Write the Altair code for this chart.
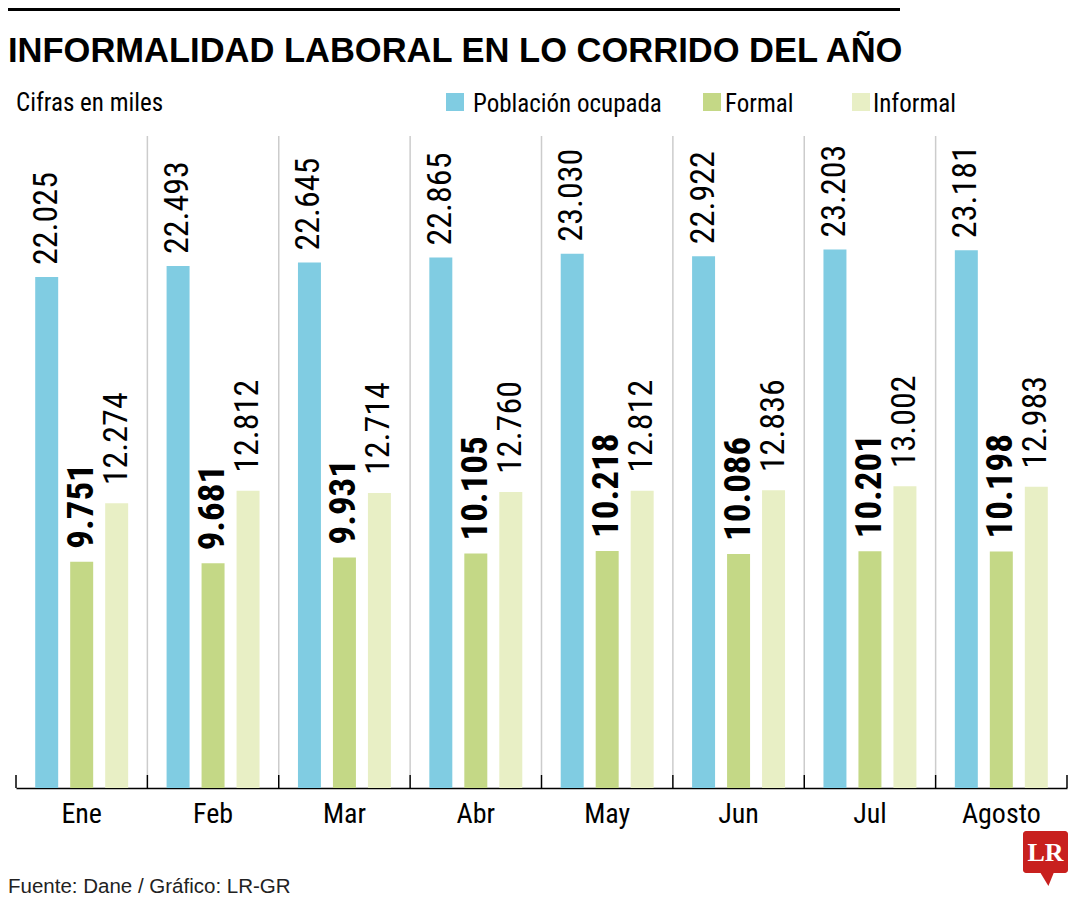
import altair as alt
import pandas as pd

meses = ["Ene", "Feb", "Mar", "Abr", "May", "Jun", "Jul", "Agosto"]
series = ["Población ocupada", "Formal", "Informal"]
poblacion = [22025, 22493, 22645, 22865, 23030, 22922, 23203, 23181]
formal = [9751, 9681, 9931, 10105, 10218, 10086, 10201, 10198]
informal = [12274, 12812, 12714, 12760, 12812, 12836, 13002, 12983]
colores = ["#80CCE2", "#C4D886", "#E8EFC5"]

NARROW = "Liberation Sans Narrow, Roboto Condensed, DejaVu Sans Condensed, sans-serif"
SANS = "Liberation Sans, Arial, sans-serif"

rows = []
for serie, vals in zip(series, [poblacion, formal, informal]):
    for m, v in zip(meses, vals):
        rows.append({"mes": m, "serie": serie, "valor": v,
                     "etiqueta": f"{v:,}".replace(",", ".")})
df = pd.DataFrame(rows)
dm = pd.DataFrame({"mes": meses})
one = pd.DataFrame({"k": [0]})

W, H = 1051, 652
YMAX = 28100

xenc = alt.X("mes:N", sort=meses,
             scale=alt.Scale(paddingInner=0, paddingOuter=0),
             axis=alt.Axis(title=None, ticks=False, domainColor="black", domainWidth=1.5,
                           labelFont=NARROW, labelFontSize=28, labelColor="black",
                           labelAlign="center", labelBaseline="top",
                           labelPadding=12, grid=False, labelAngle=0))
xoff = alt.XOffset("serie:N", sort=series,
                   scale=alt.Scale(domain=series, paddingInner=0.343, paddingOuter=0.549))
yenc = alt.Y("valor:Q", scale=alt.Scale(domain=[0, YMAX]), axis=None)
cenc = alt.Color("serie:N", scale=alt.Scale(domain=series, range=colores), legend=None)

bars = alt.Chart(df).mark_bar().encode(x=xenc, xOffset=xoff, y=yenc, color=cenc)

def labels(serie, size, weight, dx):
    return alt.Chart(df).transform_filter(alt.datum.serie == serie).mark_text(
        angle=270, align="left", baseline="middle", dx=dx, dy=0,
        font=NARROW, fontSize=size, fontWeight=weight, color="black"
    ).encode(x=alt.X("mes:N", sort=meses), xOffset=xoff, y=yenc, text="etiqueta:N")

lab_p = labels("Población ocupada", 34, "normal", 12)
lab_f = labels("Formal", 37, "bold", 13)
lab_i = labels("Informal", 34, "normal", 18)

dividers = alt.Chart(dm).transform_filter(alt.datum.mes != "Ene").mark_rule(
    color="#cccccc", strokeWidth=1.5
).encode(x=alt.X("mes:N", sort=meses, bandPosition=0), y=alt.value(0), y2=alt.value(H - 13))

ticks = alt.Chart(dm).mark_rule(color="black", strokeWidth=1.5).encode(
    x=alt.X("mes:N", sort=meses, bandPosition=0), y=alt.value(H - 13), y2=alt.value(H))
tick_end = alt.Chart(dm).transform_filter(alt.datum.mes == "Agosto").mark_rule(
    color="black", strokeWidth=1.5
).encode(x=alt.X("mes:N", sort=meses, bandPosition=1), y=alt.value(H - 13), y2=alt.value(H))

# decorations (single-row data so each is drawn once)
topbar = alt.Chart(one).mark_rect(color="black").encode(
    x=alt.value(-8), x2=alt.value(884), y=alt.value(-132), y2=alt.value(-125))
title = alt.Chart(one).mark_text(
    text="INFORMALIDAD LABORAL EN LO CORRIDO DEL AÑO", align="left", baseline="alphabetic",
    font=SANS, fontSize=34.5, fontWeight="bold", color="black"
).encode(x=alt.value(-8), y=alt.value(-74))
subtitle = alt.Chart(one).mark_text(
    text="Cifras en miles", align="left", baseline="alphabetic",
    font=NARROW, fontSize=25, color="black"
).encode(x=alt.value(0), y=alt.value(-25))

legend_pos = [(439, 457), (696, 709), (845, 857)]
legend_layers = []
for (sx, tx), s, c in zip(legend_pos, series, colores):
    legend_layers.append(alt.Chart(one).mark_square(size=324, color=c, opacity=1, filled=True).encode(
        x=alt.value(sx), y=alt.value(-34)))
    legend_layers.append(alt.Chart(one).mark_text(
        text=s, align="left", baseline="alphabetic", font=NARROW, fontSize=25, color="black"
    ).encode(x=alt.value(tx), y=alt.value(-24)))

source = alt.Chart(one).mark_text(
    text="Fuente: Dane / Gráfico: LR-GR", align="left", baseline="alphabetic",
    font=SANS, fontSize=20.5, color="#222222"
).encode(x=alt.value(-8), y=alt.value(757))

logo_box = alt.Chart(one).mark_rect(color="#C8201E", cornerRadius=3).encode(
    x=alt.value(1007), x2=alt.value(1052), y=alt.value(695), y2=alt.value(737))
logo_tail = alt.Chart(one).mark_point(
    shape="M -1 -1 L 1 -1 L 0.2 1 Z", size=200, filled=True, color="#C8201E", opacity=1
).encode(x=alt.value(1031), y=alt.value(743))
logo_text = alt.Chart(one).mark_text(
    text="LR", align="center", baseline="middle", font="Liberation Serif, DejaVu Serif, serif",
    fontSize=26, fontWeight="bold", color="white"
).encode(x=alt.value(1029.5), y=alt.value(717))

chart = alt.layer(
    dividers, ticks, tick_end, bars, lab_p, lab_f, lab_i,
    topbar, title, subtitle, *legend_layers, source, logo_box, logo_tail, logo_text
).properties(
    width=W, height=H,
    autosize=alt.AutoSizeParams(type="none"),
    padding={"left": 8, "top": 128, "right": 5, "bottom": 112},
).configure_view(stroke=None)

chart.save("out.html", embed_options={"renderer": "svg", "actions": False})
